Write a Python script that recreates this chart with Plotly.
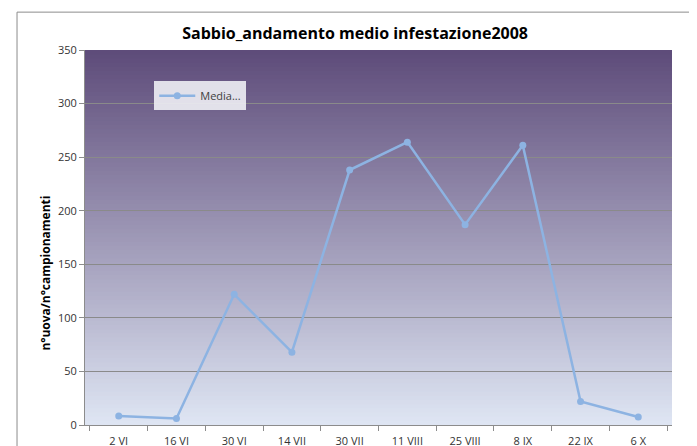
import plotly.graph_objects as go

categories = ["2 VI", "16 VI", "30 VI", "14 VII", "30 VII", "11 VIII", "25 VIII", "8 IX", "22 IX", "6 X"]
media = [8.5, 6, 122, 68, 238, 264, 187, 261, 22, 7.5]
y_ticks = [0, 50, 100, 150, 200, 250, 300, 350]

fig = go.Figure()
fig.add_trace(go.Scatter(
    x=categories, y=media, mode="lines+markers", name="Media...",
    line=dict(color="#8db3e2", width=2.5),
    marker=dict(color="#8db3e2", size=7, symbol="circle"),
))

# vertical gradient background (top purple -> bottom light blue)
top = (94, 76, 122)
bot = (222, 229, 243)
n = 90
shapes = []
for i in range(n):
    t = i / (n - 1)
    c = tuple(int(round(top[k] + (bot[k] - top[k]) * t)) for k in range(3))
    y1 = 1 - i / n
    shapes.append(dict(type="rect", xref="x domain", yref="y domain",
                       x0=0, x1=1, y0=0, y1=y1,
                       fillcolor="rgb(%d,%d,%d)" % c, line=dict(width=0), layer="below"))
# outer chart border
shapes.append(dict(type="rect", xref="paper", yref="paper",
                   x0=-0.1158, x1=1.0358, y0=-0.3, y1=1.101,
                   line=dict(color="#8c8c8c", width=1), fillcolor="rgba(0,0,0,0)", layer="below"))

fig.update_layout(
    width=697, height=446,
    margin=dict(l=77, r=33, t=42, b=29),
    paper_bgcolor="white",
    plot_bgcolor="rgba(0,0,0,0)",
    shapes=shapes,
    title=dict(text="<b>Sabbio_andamento medio infestazione2008</b>",
               x=0.498, xref="container", xanchor="center",
               y=0.944, yref="container", yanchor="middle",
               font=dict(family="Open Sans", size=16, color="#000000")),
    showlegend=True,
    legend=dict(x=0.118, y=0.917, xanchor="left", yanchor="top",
                bgcolor="rgba(236,236,242,0.92)", borderwidth=0,
                font=dict(family="Open Sans", size=11, color="#404040"),
                itemwidth=36),
    font=dict(family="Open Sans", size=11, color="#333333"),
    annotations=[dict(text="<b>n°uova/n°campionamenti</b>", xref="paper", yref="paper",
                      x=-0.068, y=0.404, textangle=-90, showarrow=False,
                      xanchor="center", yanchor="middle",
                      font=dict(family="Open Sans", size=12, color="#000000"))],
)
fig.update_xaxes(
    type="category", tickson="boundaries", ticks="outside", ticklen=5,
    tickcolor="#8c8c8c", showline=True, linecolor="#8c8c8c", showgrid=False,
    tickfont=dict(size=11, color="#333333"), ticklabelstandoff=6,
    automargin=False,
)
fig.update_yaxes(
    range=[0, 350], tickvals=y_ticks, ticks="outside", ticklen=5,
    tickcolor="#8c8c8c", showline=True, linecolor="#8c8c8c",
    showgrid=True, gridcolor="#8a8a8a", gridwidth=1, zeroline=False,
    tickfont=dict(size=11, color="#333333"), automargin=False,
)
fig.write_html("out.html")
